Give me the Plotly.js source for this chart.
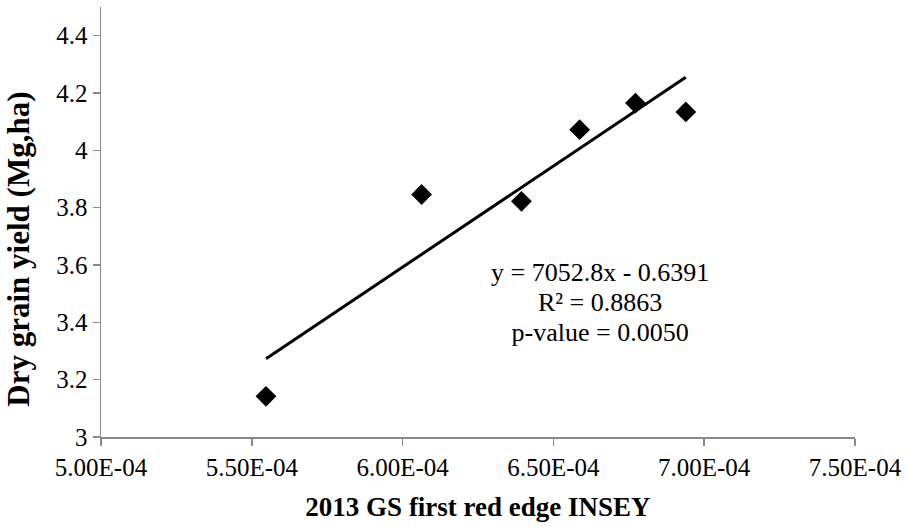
<!DOCTYPE html>
<html>
<head>
<meta charset="utf-8">
<script src="https://cdn.plot.ly/plotly-3.0.1.min.js"></script>
<style>html,body{margin:0;padding:0;background:#fff;}#chart{width:907px;height:527px;}</style>
</head>
<body>
<div id="chart"></div>
<script>
// Data
const insey = [5.547e-4, 6.063e-4, 6.394e-4, 6.587e-4, 6.772e-4, 6.939e-4];
const yieldVals = [3.142, 3.846, 3.822, 4.072, 4.165, 4.134];
const trendSlope = 7052.8;
const trendIntercept = -0.6391;
const equationLines = ["y = 7052.8x - 0.6391", "R² = 0.8863", "p-value = 0.0050"];
const equationX = [6.655e-4, 6.655e-4, 6.655e-4];
const equationY = [3.566, 3.461, 3.356];
const xTickVals = [5.0e-4, 5.5e-4, 6.0e-4, 6.5e-4, 7.0e-4, 7.5e-4];
const xTickText = ["5.00E-04", "5.50E-04", "6.00E-04", "6.50E-04", "7.00E-04", "7.50E-04"];
const yTickVals = [3, 3.2, 3.4, 3.6, 3.8, 4, 4.2, 4.4];
const yTickText = ["3", "3.2", "3.4", "3.6", "3.8", "4", "4.2", "4.4"];

const xMin = Math.min(...insey), xMax = Math.max(...insey);
const trendX = [xMin, xMax];
const trendY = trendX.map(v => trendSlope * v + trendIntercept);

const font = "Liberation Serif, Times New Roman, serif";
const axisColor = "#898989";
const pad = "\u00a0".repeat(7);

const data = [
  {x: trendX, y: trendY, type: "scatter", mode: "lines",
   line: {color: "#000", width: 3}, hoverinfo: "skip", showlegend: false},
  {x: insey, y: yieldVals, type: "scatter", mode: "markers",
   marker: {symbol: "diamond", size: 16, color: "#000"}, showlegend: false},
  {x: equationX, y: equationY, text: equationLines, type: "scatter", mode: "text",
   textposition: "middle center", textfont: {family: font, size: 26, color: "#000"},
   hoverinfo: "skip", showlegend: false, cliponaxis: false}
];

const layout = {
  width: 907, height: 527,
  margin: {l: 101, r: 52, t: 7, b: 90},
  paper_bgcolor: "#fff", plot_bgcolor: "#fff",
  font: {family: font, color: "#000", size: 25},
  xaxis: {
    range: [5.0e-4, 7.5e-4], tickvals: xTickVals, ticktext: xTickText,
    showgrid: false, zeroline: false, showline: true, linecolor: axisColor, linewidth: 1.5,
    ticks: "outside", ticklen: 7, tickcolor: axisColor, tickwidth: 1.5,
    tickfont: {family: font, size: 25, color: "#000"},
    title: {text: "<b>2013 GS first red edge INSEY</b>", font: {family: font, size: 27, color: "#000"}, standoff: 17}
  },
  yaxis: {
    range: [3, 4.5], tickvals: yTickVals, ticktext: yTickText,
    showgrid: false, zeroline: false, showline: true, linecolor: axisColor, linewidth: 1.5,
    ticks: "outside", ticklen: 7, tickcolor: axisColor, tickwidth: 1.5,
    tickfont: {family: font, size: 25, color: "#000"},
    title: {text: "<b>Dry grain yield (Mg,ha)" + pad + "</b>", font: {family: font, size: 31, color: "#000"}, standoff: 17}
  }
};

Plotly.newPlot("chart", data, layout, {displayModeBar: false, staticPlot: true});
</script>
</body>
</html>
